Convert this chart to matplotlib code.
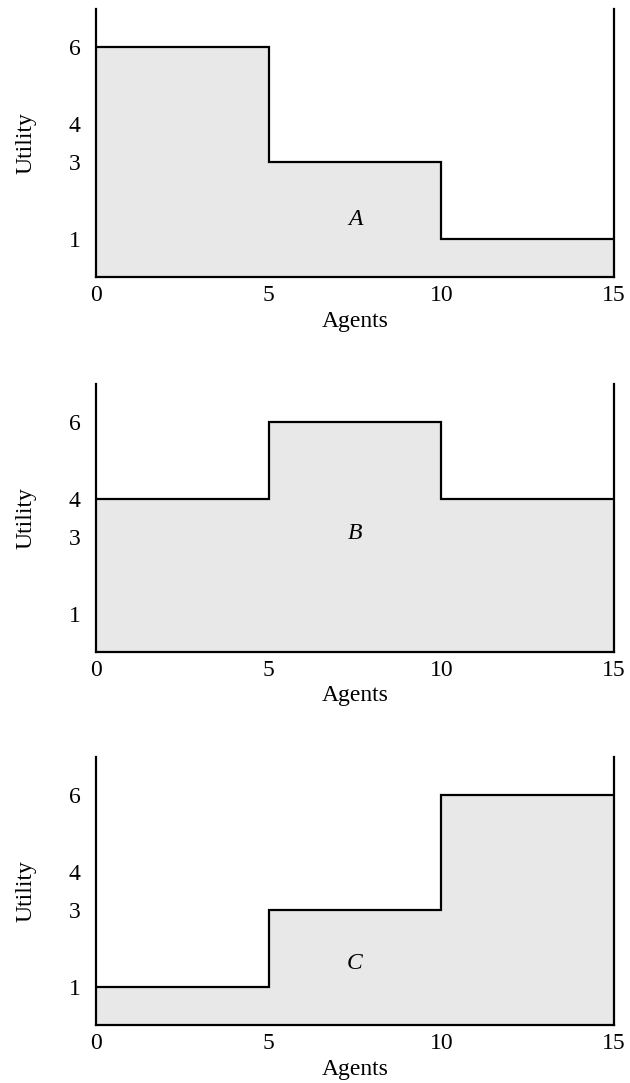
import numpy as np
import matplotlib
matplotlib.use("Agg")
import matplotlib.pyplot as plt

plt.rcParams['font.family'] = ['Liberation Serif', 'DejaVu Serif']

# step edges (agents) and utility levels for each allocation
edges = [0, 5, 10, 15]
util_A = [6, 3, 1]
util_B = [4, 6, 4]
util_C = [1, 3, 6]
labels = ["A", "B", "C"]
label_pos = [(7.5, 1.5), (7.5, 3.1), (7.5, 1.6)]
x_ticks = [0, 5, 10, 15]
y_ticks = [1, 3, 4, 6]

fill_col = "#e8e8e8"
fs = 17

fig = plt.figure(figsize=(6.3, 10.83), dpi=100)
bottoms = [277, 652, 1025]  # pixel rows of the x axis

for util, lab, pos, yb in zip([util_A, util_B, util_C], labels, label_pos, bottoms):
    ax = fig.add_axes([96 / 630, 1 - yb / 1083, 518 / 630, 268 / 1083])
    xs = np.repeat(edges, 2)[1:-1]
    ys = np.repeat(util, 2)
    ax.fill_between(xs, ys, 0, color=fill_col, lw=0)
    ax.plot(xs, ys, color="black", lw=1.6, solid_joinstyle="miter")
    ax.set_xlim(0, 15)
    ax.set_ylim(0, 7)
    ax.set_xticks(x_ticks)
    ax.set_yticks(y_ticks)
    ax.tick_params(length=0, labelsize=fs)
    ax.tick_params(axis="x", pad=6)
    ax.tick_params(axis="y", pad=11)
    ax.spines["top"].set_visible(False)
    for s in ["left", "right", "bottom"]:
        ax.spines[s].set_linewidth(1.6)
    ax.set_xlabel("Agents", fontsize=fs, labelpad=3)
    ax.set_ylabel("Utility", fontsize=fs, labelpad=23)
    ax.text(pos[0], pos[1], lab, fontsize=fs, style="italic",
            ha="center", va="center")

fig.savefig("out.png", dpi=100)
